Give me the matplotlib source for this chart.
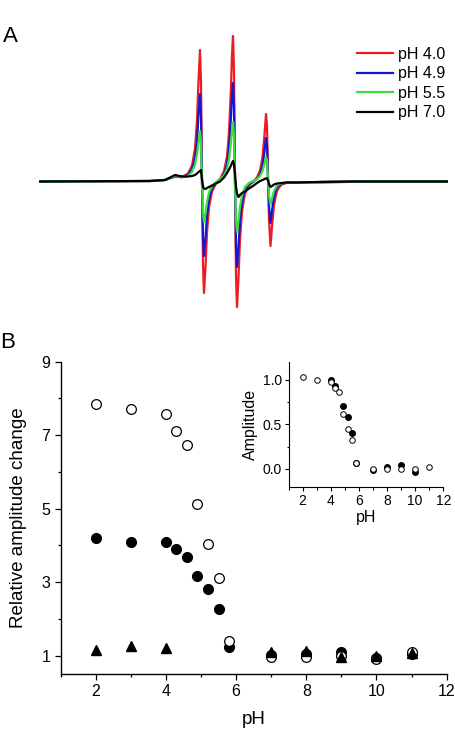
import matplotlib
matplotlib.use('Agg')
import matplotlib.pyplot as plt
from matplotlib.ticker import MultipleLocator
import numpy as np

plt.rcParams['font.family'] = ['Liberation Sans', 'DejaVu Sans']

# ---------------- panel A: spectra ----------------
field = [39, 150, 165, 175, 182, 188, 192, 195, 197, 198.5,
         200, 201, 202, 203, 204, 205.5, 207, 209, 212, 216,
         220, 224, 227, 229, 231, 232, 233, 234, 235, 236,
         237, 238.5, 240, 242, 245, 249, 253, 257, 260, 262.5,
         264.5, 266, 267, 268, 269, 270.5, 272, 274, 277, 281,
         287, 297, 320, 360, 447]

spec_ph40 = [0, 0.5, 1.5, 5, 4.5, 8, 16, 33, 61, 100,
             131.5, 99, 0, -84, -111.5, -85, -51, -26, -10, -2,
             2.7, 10.3, 25, 48.5, 95, 127, 145.5, 110, 0, -95,
             -125.5, -96, -58, -30, -12, -4, -0.3, 4, 11, 24,
             47, 67.5, 56, 5, -38, -64.5, -45.5, -23.4, -9.2, -3.5,
             -1.2, -1, -0.5, 0, 0]

spec_ph49 = [0, 0.5, 1.5, 5, 4.3, 6.6, 12, 23, 40.5, 66.7,
             87.5, 66, 0, -56, -74.5, -56.7, -34, -17.3, -6.7, -1.3,
             1.8, 6.9, 17, 33, 64.6, 86, 98.5, 75, 0, -64.6,
             -85.5, -65.3, -39.4, -20.4, -8.2, -2.7, -0.2, 2.6, 7.1, 15.5,
             30.3, 43.5, 36, 3.2, -24.5, -41.5, -29.3, -15.1, -5.9, -2.3,
             -0.8, -1, -0.5, 0, 0]

spec_ph55 = [0, 0.5, 1.5, 5.5, 4.5, 5.5, 9.5, 17, 27, 39,
             50.5, 38, 0, -31, -40.5, -32, -20.5, -11, -4.5, -0.5,
             2.5, 6, 12.5, 22, 40, 52, 59.5, 45, 0, -38.5,
             -50.5, -39.5, -25, -14, -5.5, -1.5, 0.5, 2.5, 5.5, 10.5,
             18, 24.5, 20.5, 1.5, -14, -23, -17, -9.5, -4, -1.8,
             -1, -1, -1.5, 0, 0]

spec_ph70 = [0, 0.5, 1.5, 6.5, 5, 5, 5.5, 6.5, 8, 9.5,
             10.5, 11.5, 2, -5, -7, -7.5, -6.5, -5.5, -4, -2,
             0, 4, 8.5, 12, 16, 18.5, 20.5, 17, 8, -5,
             -12, -15.5, -13.5, -11.5, -10, -7, -4.5, -1.5, 0.5, 1.5,
             2.5, 3, 3.5, 1, -2.5, -5.5, -4.5, -3, -2, -1.5,
             -1, -1, -0.5, 0, 0]

spec_labels = ['pH 4.0', 'pH 4.9', 'pH 5.5', 'pH 7.0']

# ---------------- panel B: amplitude change vs pH ----------------
ph_open = [2, 3, 4, 4.3, 4.6, 4.9, 5.2, 5.5, 5.8, 7, 8, 9, 10, 11]
amp_open = [7.84, 7.71, 7.59, 7.11, 6.72, 5.14, 4.04, 3.11, 1.39, 0.96, 0.97, 1.0, 0.91, 1.11]

ph_filled = [2, 3, 4, 4.3, 4.6, 4.9, 5.2, 5.5, 5.8, 7, 8, 9, 10, 11]
amp_filled = [4.19, 4.08, 4.09, 3.89, 3.68, 3.18, 2.81, 2.26, 1.23, 1.02, 1.05, 1.09, 0.93, 1.05]

ph_tri = [2, 3, 4, 7, 8, 9, 10, 11]
amp_tri = [1.15, 1.25, 1.2, 1.11, 1.13, 0.97, 0.99, 1.07]

# inset: normalised amplitude
ph_in_open = [2, 3, 4, 4.3, 4.6, 4.9, 5.2, 5.5, 5.8, 7, 8, 9, 10, 11]
amp_in_open = [1.03, 1.0, 0.97, 0.91, 0.86, 0.61, 0.45, 0.32, 0.06, 0.0, 0.0, 0.0, 0.0, 0.02]

ph_in_filled = [4, 4.3, 4.9, 5.2, 5.5, 5.8, 7, 8, 9, 10]
amp_in_filled = [0.99, 0.93, 0.70, 0.58, 0.40, 0.07, -0.01, 0.02, 0.04, -0.04]


W, H = 456, 732
fig = plt.figure(figsize=(W/100, H/100), dpi=100)

def frac(left, top, right, bottom):
    # pixel box -> figure fraction
    return [left/W, 1-bottom/H, (right-left)/W, (bottom-top)/H]

###############################################################################
# Panel A
axA = fig.add_axes(frac(39, 20, 448, 330))
colors = ['#ec1c24', '#1515d2', '#3ddc3d', 'black']
for spec, c, lab in zip([spec_ph40, spec_ph49, spec_ph55, spec_ph70], colors, spec_labels):
    axA.plot(field, spec, color=c, linewidth=1.6, label=lab)
axA.set_xlim(39, 448)
axA.set_ylim(-148.5, 161.5)
axA.axis('off')
axA.legend(loc='upper left', bbox_to_anchor=(357/W, 1-47/H),
           bbox_transform=fig.transFigure, frameon=False, fontsize=11.5,
           handlelength=2.25, handletextpad=0.3, labelspacing=0.28,
           borderpad=0, borderaxespad=0)

fig.text(3/W, 1-42/H, 'A', fontsize=16, va='baseline', ha='left')
fig.text(0/W, 1-348/H, 'B', fontsize=16, va='baseline', ha='left')

###############################################################################
# Panel B main
axB = fig.add_axes(frac(60.6, 361.7, 446.7, 674))
axB.plot(ph_filled, amp_filled, 'o', color='black', markersize=7, zorder=3)
axB.plot(ph_open, amp_open, 'o', markerfacecolor='white', markeredgecolor='black',
         markeredgewidth=0.9, markersize=7, zorder=4)
axB.plot(ph_tri, amp_tri, '^', color='black', markersize=7, zorder=5)

axB.set_xlim(1, 12)
axB.set_ylim(0.5, 9)
axB.xaxis.set_major_locator(MultipleLocator(2))
axB.xaxis.set_minor_locator(MultipleLocator(1))
axB.set_yticks([1, 3, 5, 7, 9])
axB.yaxis.set_minor_locator(MultipleLocator(1))
for s in ['top', 'right']:
    axB.spines[s].set_visible(False)
for s in ['left', 'bottom']:
    axB.spines[s].set_linewidth(1.0)
axB.tick_params(which='major', direction='out', length=4, width=0.9, labelsize=11.5, pad=3.5)
axB.tick_params(which='minor', direction='out', length=2.2, width=0.9)
axB.set_xlabel('pH', fontsize=13.5, labelpad=8)
axB.set_ylabel('Relative amplitude change', fontsize=13.5, labelpad=10)

###############################################################################
# Inset
axI = fig.add_axes(frac(288.6, 361.7, 443.3, 486.7))
axI.plot(ph_in_filled, amp_in_filled, 'o', color='black', markersize=4, zorder=3)
axI.plot(ph_in_open, amp_in_open, 'o', markerfacecolor='white', markeredgecolor='black',
         markeredgewidth=0.7, markersize=4, zorder=4)
axI.set_xlim(1, 12)
axI.set_ylim(-0.2, 1.2)
axI.xaxis.set_major_locator(MultipleLocator(2))
axI.xaxis.set_minor_locator(MultipleLocator(1))
axI.set_yticks([0.0, 0.5, 1.0])
axI.yaxis.set_minor_locator(MultipleLocator(0.25))
for s in ['top', 'right']:
    axI.spines[s].set_visible(False)
axI.tick_params(which='major', direction='out', length=3, width=0.8, labelsize=10, pad=2)
axI.tick_params(which='minor', direction='out', length=1.8, width=0.8)
axI.set_xlabel('pH', fontsize=11.5, labelpad=2)
axI.set_ylabel('Amplitude', fontsize=11.5, labelpad=3)

plt.savefig('out.png', dpi=100)
